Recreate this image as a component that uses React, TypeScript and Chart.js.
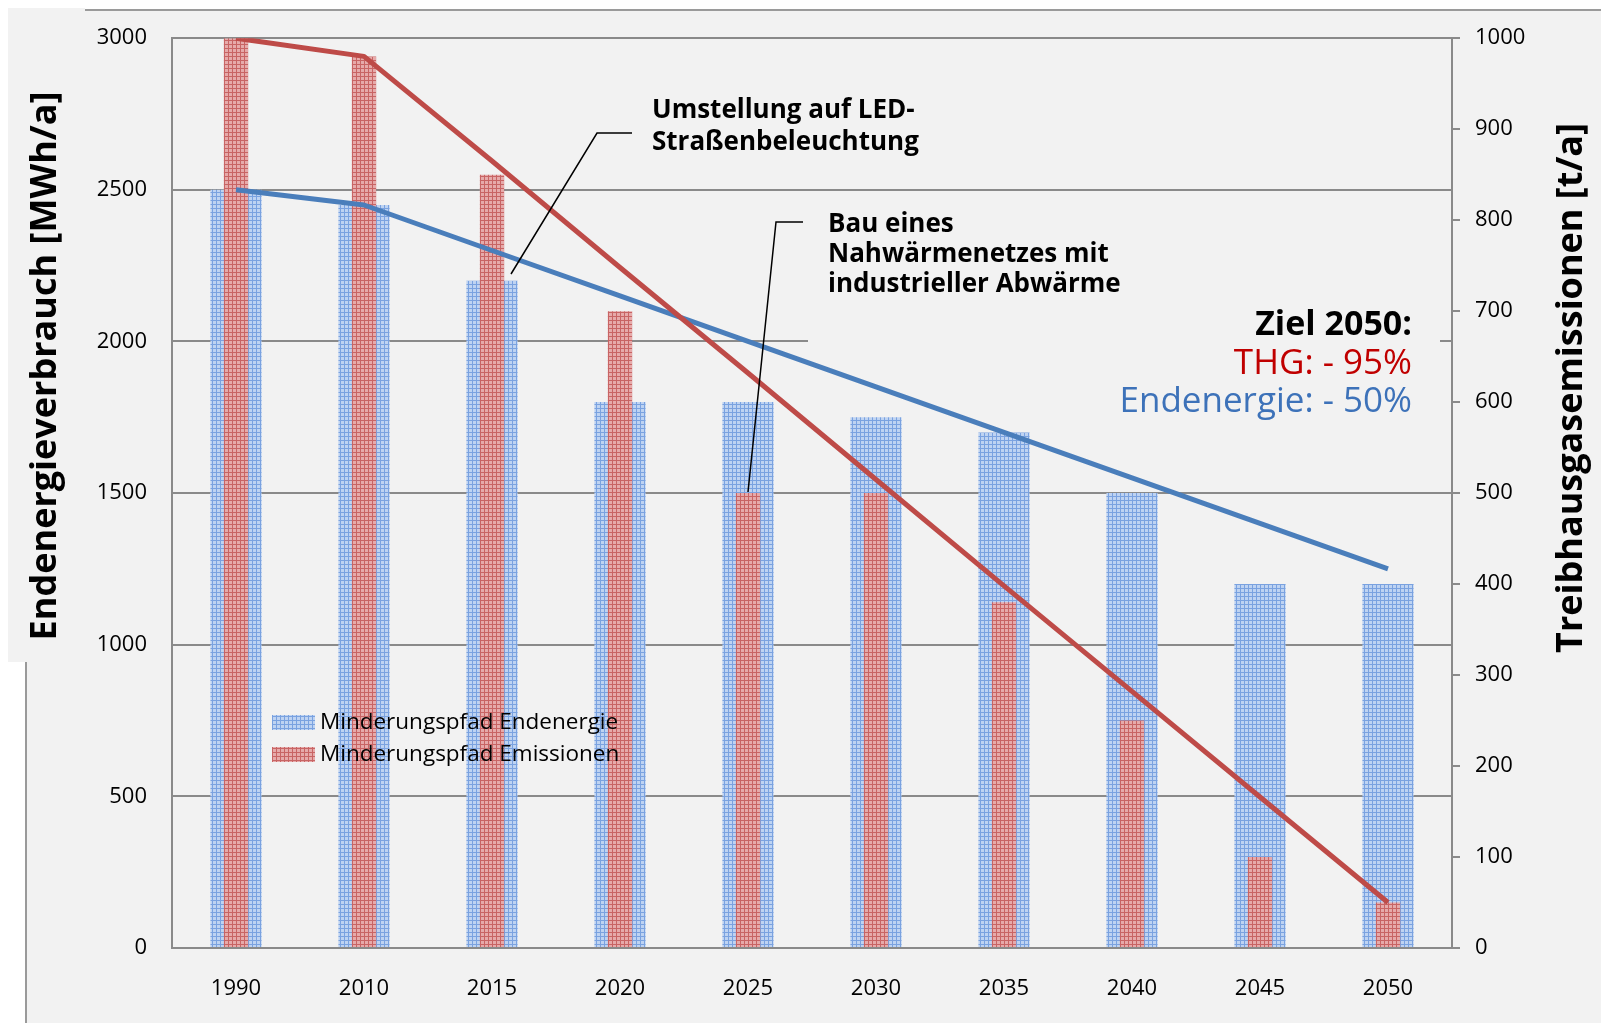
import React, { useEffect, useRef } from "react";
import { Chart, registerables } from "chart.js";

Chart.register(...registerables);

// ---- data ----
const years = ["1990", "2010", "2015", "2020", "2025", "2030", "2035", "2040", "2045", "2050"];
const endenergieBars = [2500, 2450, 2200, 1800, 1800, 1750, 1700, 1500, 1200, 1200];
const emissionenBars = [1000, 980, 850, 700, 500, 500, 380, 250, 100, 50];
const endenergiePfad = [2500, 2450, 2300, 2150, 2000, 1850, 1700, 1550, 1400, 1250];
const emissionenPfad = [1000, 980, 865, 748, 632, 515, 398, 282, 166, 50];
const leftAxisRange = [0, 3000, 500];
const rightAxisRange = [0, 1000, 100];
const legendLabels = ["Minderungspfad Endenergie", "Minderungspfad Emissionen"];
const leftTitle = "Endenergieverbrauch [MWh/a]";
const rightTitle = "Treibhausgasemissionen [t/a]";
const noteLED = ["Umstellung auf LED-", "Straßenbeleuchtung"];
const noteNah = ["Bau eines", "Nahwärmenetzes mit", "industrieller Abwärme"];
const goalLines = ["Ziel 2050:", "THG: - 95%", "Endenergie: - 50%"];

const FONT = "'Open Sans', Lato, sans-serif";
const BG = "#f2f2f2";
const GRID = "#8a8a8a";

function makePattern(bg: string, line: string): CanvasPattern | string {
  const c = document.createElement("canvas");
  c.width = 4;
  c.height = 4;
  const g = c.getContext("2d");
  if (!g) return bg;
  g.fillStyle = bg;
  g.fillRect(0, 0, 4, 4);
  g.fillStyle = line;
  g.fillRect(0, 0, 4, 1);
  g.fillRect(0, 0, 1, 4);
  return g.createPattern(c, "repeat") || bg;
}

export default function App() {
  const ref = useRef<HTMLCanvasElement | null>(null);

  useEffect(() => {
    const canvas = ref.current;
    if (!canvas) return;
    const bluePat = makePattern("rgb(190,211,242)", "rgb(122,162,224)");
    const redPat = makePattern("rgb(230,170,170)", "rgb(200,100,100)");

    const framePlugin = {
      id: "frame",
      beforeDraw(chart: any) {
        const ctx = chart.ctx;
        ctx.save();
        ctx.fillStyle = "#ffffff";
        ctx.fillRect(0, 0, chart.width, chart.height);
        ctx.fillStyle = BG;
        ctx.fillRect(26, 10, chart.width - 26, chart.height - 10);
        ctx.strokeStyle = "#9a9a9a";
        ctx.lineWidth = 2;
        ctx.beginPath();
        ctx.moveTo(26, chart.height);
        ctx.lineTo(26, 10);
        ctx.lineTo(chart.width, 10);
        ctx.stroke();
        ctx.fillStyle = BG;
        ctx.fillRect(8, 8, 77, 654);
        ctx.restore();
      },
      beforeDatasetsDraw(chart: any) {
        const ctx = chart.ctx;
        const y = chart.scales.y.getPixelForValue(2000);
        ctx.save();
        ctx.fillStyle = BG;
        ctx.fillRect(808, y - 3, 632, 6);
        ctx.restore();
      },
      afterDraw(chart: any) {
        const ctx = chart.ctx;
        ctx.save();
        // axis titles
        ctx.fillStyle = "#000";
        ctx.font = `bold 36px ${FONT}`;
        ctx.textAlign = "center";
        ctx.textBaseline = "middle";
        ctx.save();
        ctx.translate(46, 366);
        ctx.rotate(-Math.PI / 2);
        ctx.fillText(leftTitle, 0, 0);
        ctx.restore();
        ctx.save();
        ctx.translate(1572, 388);
        ctx.rotate(-Math.PI / 2);
        ctx.fillText(rightTitle, 0, 0);
        ctx.restore();

        // legend
        const sw = [bluePat, redPat];
        ctx.font = `22.5px ${FONT}`;
        ctx.textAlign = "left";
        ctx.textBaseline = "middle";
        for (let i = 0; i < legendLabels.length; i++) {
          const yy = 715 + i * 32;
          ctx.fillStyle = sw[i] as any;
          ctx.fillRect(272, yy, 43, 15);
          ctx.fillStyle = "#000";
          ctx.fillText(legendLabels[i], 320, yy + 8);
        }

        // connectors
        ctx.strokeStyle = "#000";
        ctx.lineWidth = 1.5;
        ctx.beginPath();
        ctx.moveTo(511, 274);
        ctx.lineTo(597, 133);
        ctx.lineTo(632, 133);
        ctx.stroke();
        ctx.beginPath();
        ctx.moveTo(803, 222);
        ctx.lineTo(776, 222);
        ctx.lineTo(748, 492);
        ctx.stroke();

        // annotations
        ctx.fillStyle = "#000";
        ctx.font = `bold 26px ${FONT}`;
        ctx.textBaseline = "alphabetic";
        noteLED.forEach((t, i) => ctx.fillText(t, 652, 118 + i * 32));
        noteNah.forEach((t, i) => ctx.fillText(t, 828, 232 + i * 30));

        // goal
        ctx.textAlign = "right";
        ctx.font = `bold 34px ${FONT}`;
        ctx.fillStyle = "#000";
        ctx.fillText(goalLines[0], 1412, 335);
        ctx.font = `35px ${FONT}`;
        ctx.fillStyle = "#c00000";
        ctx.fillText(goalLines[1], 1412, 374);
        ctx.fillStyle = "#3d72b9";
        ctx.fillText(goalLines[2], 1412, 412);
        ctx.restore();
      },
    };

    const tickFont = { family: FONT, size: 22 };
    const plain = (v: any) => String(v);
    const chart = new Chart(canvas, {
      type: "bar",
      data: {
        labels: years,
        datasets: [
          {
            type: "line",
            label: "Pfad Emissionen",
            data: emissionenPfad,
            yAxisID: "y1",
            borderColor: "#be4b48",
            borderWidth: 5,
            pointRadius: 0,
            borderJoinStyle: "round",
            order: 0,
          } as any,
          {
            type: "line",
            label: "Pfad Endenergie",
            data: endenergiePfad,
            yAxisID: "y",
            borderColor: "#4a7ebb",
            borderWidth: 5,
            pointRadius: 0,
            borderJoinStyle: "round",
            order: 1,
          } as any,
          {
            type: "bar",
            label: legendLabels[1],
            data: emissionenBars,
            yAxisID: "y1",
            backgroundColor: redPat as any,
            grouped: false,
            barPercentage: 0.19,
            categoryPercentage: 1,
            order: 2,
          } as any,
          {
            type: "bar",
            label: legendLabels[0],
            data: endenergieBars,
            yAxisID: "y",
            backgroundColor: bluePat as any,
            grouped: false,
            barPercentage: 0.4,
            categoryPercentage: 1,
            order: 3,
          } as any,
        ],
      },
      options: {
        responsive: false,
        animation: false,
        devicePixelRatio: 1,
        layout: { padding: { top: 36, left: 0, right: 0, bottom: 0 } },
        plugins: { legend: { display: false }, tooltip: { enabled: false } },
        scales: {
          x: {
            grid: { display: false, drawTicks: false },
            border: { color: GRID, width: 2 },
            ticks: { font: tickFont, color: "#000", padding: 28 },
            afterFit: (s: any) => {
              s.height = 75;
            },
          },
          y: {
            position: "left",
            min: leftAxisRange[0],
            max: leftAxisRange[1],
            ticks: { stepSize: leftAxisRange[2], font: tickFont, color: "#000", padding: 25, callback: plain },
            grid: { color: GRID, lineWidth: 2, drawTicks: false },
            border: { color: GRID, width: 2 },
            afterFit: (s: any) => {
              s.width = 172;
            },
          },
          y1: {
            position: "right",
            min: rightAxisRange[0],
            max: rightAxisRange[1],
            ticks: { stepSize: rightAxisRange[2], font: tickFont, color: "#000", padding: 15, callback: plain },
            grid: { drawOnChartArea: false, drawTicks: true, tickLength: 8, color: GRID, lineWidth: 2 },
            border: { color: GRID, width: 2 },
            afterFit: (s: any) => {
              s.width = 149;
            },
          },
        },
      } as any,
      plugins: [framePlugin],
    });
    return () => chart.destroy();
  }, []);

  return (
    <div style={{ position: "absolute", left: 0, top: 0, width: 1601, height: 1023 }}>
      <canvas ref={ref} width={1601} height={1023} style={{ width: 1601, height: 1023, display: "block" }} />
    </div>
  );
}
